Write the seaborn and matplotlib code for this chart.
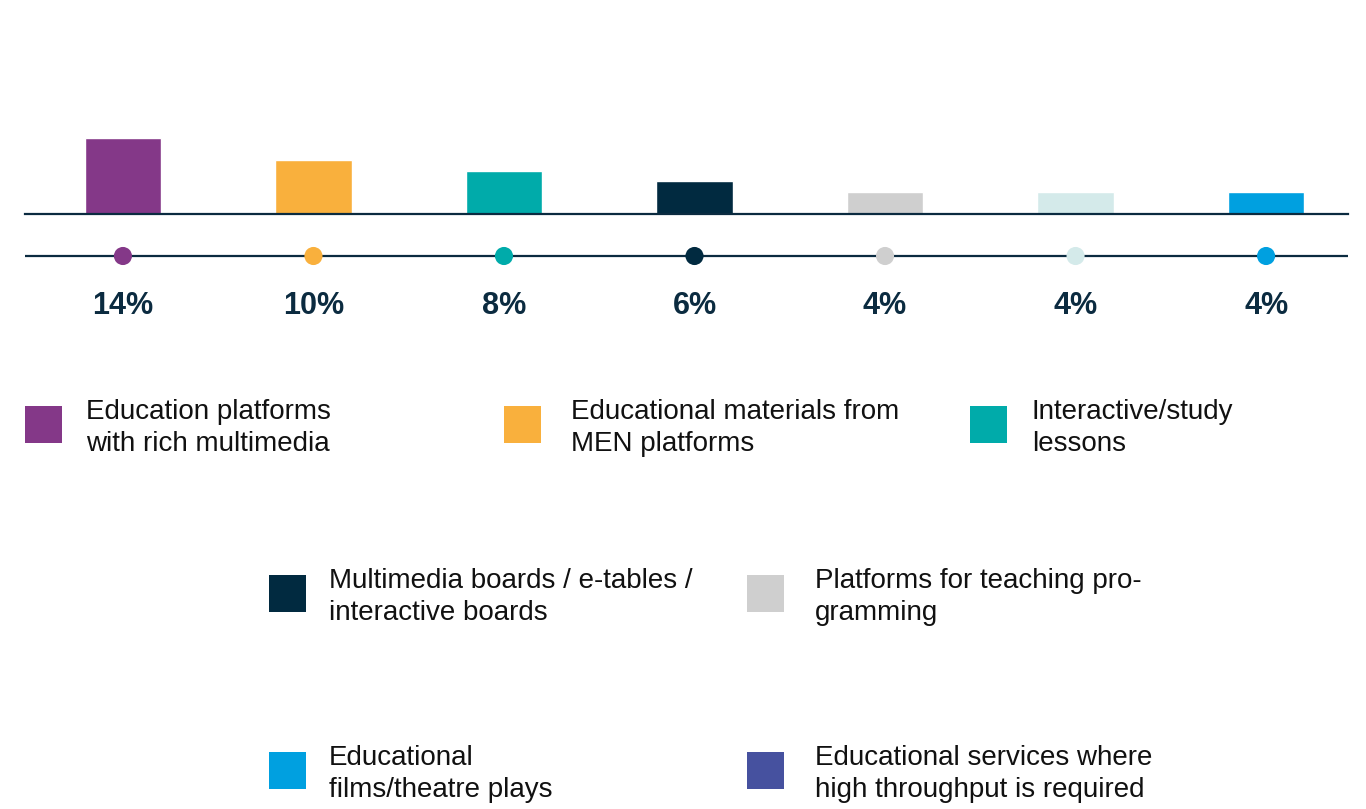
import matplotlib
matplotlib.use("Agg")
import matplotlib.pyplot as plt
from matplotlib.patches import Rectangle
import seaborn as sns
import pandas as pd

# Shares of respondents per educational service (percent)
bar_labels = ["14%", "10%", "8%", "6%", "4%", "4%", "4%"]
values = [14, 10, 8, 6, 4, 4, 4]
colors = ["#843888", "#F9B03D", "#00ABAA", "#012A40", "#CFCFCF", "#D4EAEA", "#00A0E0"]

legend_labels = [
    "Education platforms\nwith rich multimedia",
    "Educational materials from\nMEN platforms",
    "Interactive/study\nlessons",
    "Multimedia boards / e-tables /\ninteractive boards",
    "Platforms for teaching pro-\ngramming",
    "Educational\nfilms/theatre plays",
    "Educational services where\nhigh throughput is required",
]
legend_colors = ["#843888", "#F9B03D", "#00ABAA", "#012A40", "#CFCFCF", "#00A0E0", "#46519F"]

NAVY = "#0B2B40"

sns.set_theme(style="white")
plt.rcParams["font.family"] = ["Liberation Sans", "DejaVu Sans"]

W, H = 1366, 809
fig = plt.figure(figsize=(W / 100, H / 100), dpi=100)
fig.patch.set_facecolor("white")


def fig_rect(x0, y0, x1, y1):
    """Pixel box (top-left origin) to figure fraction rect."""
    return [x0 / W, 1 - y1 / H, (x1 - x0) / W, (y1 - y0) / H]


df = pd.DataFrame({"item": [f"c{i}" for i in range(len(values))], "value": values})
xlim = (-0.514, 6.43)

# Bar panel
ax = fig.add_axes(fig_rect(25, 100, 1348, 214))
sns.barplot(data=df, x="item", y="value", hue="item", palette=colors,
            width=0.40, legend=False, ax=ax, saturation=1)
ax.set_xlim(*xlim)
ax.set_ylim(0, 14 * 114 / 76)
ax.set_xlabel("")
ax.set_ylabel("")
ax.set_xticks([])
ax.set_yticks([])
for side in ("top", "left", "right"):
    ax.spines[side].set_visible(False)
ax.spines["bottom"].set_color(NAVY)
ax.spines["bottom"].set_linewidth(1.6)
ax.set_facecolor("none")

# Dot strip with value labels
ax2 = fig.add_axes(fig_rect(25, 236, 1348, 276))
ax2.axhline(0, color=NAVY, lw=1.6, zorder=1)
sns.scatterplot(x=list(range(len(values))), y=[0] * len(values), hue=df["item"],
                palette=colors, s=170, linewidth=0, legend=False, ax=ax2, zorder=3)
ax2.set_xlim(*xlim)
ax2.set_ylim(-1, 1)
ax2.axis("off")
for i, lab in enumerate(bar_labels):
    ax2.annotate(lab, (i, 0), xytext=(0, -36), textcoords="offset points",
                 ha="center", va="center", fontsize=22, fontweight="bold", color=NAVY)

# Legend panel in pixel coordinates
lax = fig.add_axes([0, 0, 1, 1])
lax.set_xlim(0, W)
lax.set_ylim(H, 0)
lax.axis("off")
legend_pos = [
    (25, 406, 86), (504, 406, 571), (970, 406, 1032),
    (269, 575, 329), (747, 575, 815),
    (269, 752, 329), (747, 752, 815),
]
for (sx, sy, tx), lab, col in zip(legend_pos, legend_labels, legend_colors):
    lax.add_patch(Rectangle((sx, sy), 37, 37, facecolor=col, edgecolor="none"))
    lax.text(tx, sy + 22, lab, ha="left", va="center", fontsize=20,
             color="#111111", linespacing=1.32)

fig.savefig("out.png", dpi=100, facecolor="white")
